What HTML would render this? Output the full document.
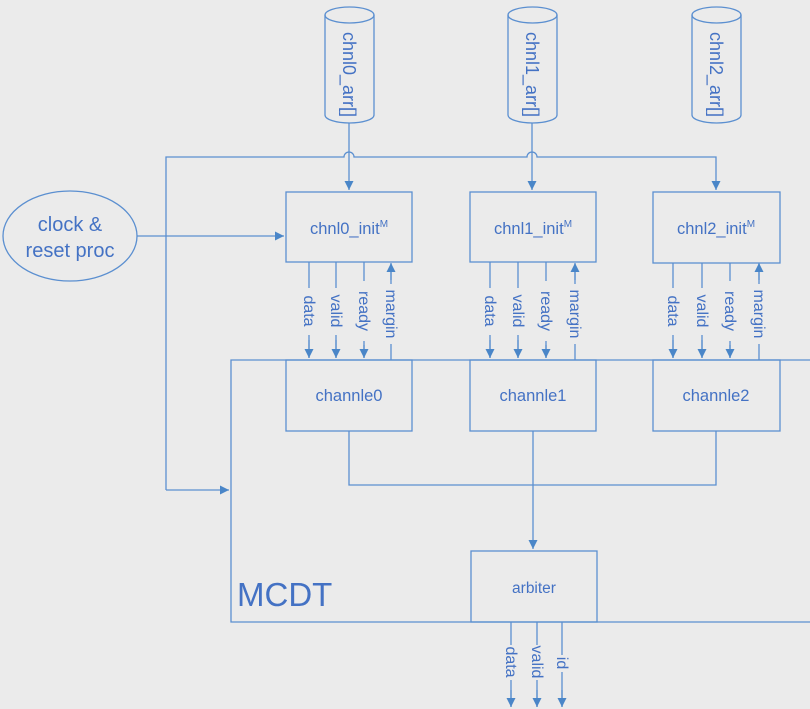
<!DOCTYPE html>
<html><head><style>
html,body{margin:0;padding:0;background:#ebebeb;}
svg{display:block;}
text{font-family:"Liberation Sans",sans-serif;fill:#4472c4;}
</style></head><body>
<svg width="810" height="709" viewBox="0 0 810 709" xmlns="http://www.w3.org/2000/svg">
<defs>
<marker id="a" viewBox="0 0 10 10" refX="10" refY="5" markerWidth="9" markerHeight="9" markerUnits="userSpaceOnUse" orient="auto"><path d="M0,0L10,5L0,10z" fill="#4a86c8"/></marker>
</defs>
<rect width="810" height="709" fill="#ebebeb"/>
<g stroke="#5b8fd0" stroke-width="1.3" fill="none">
<g>
<path d="M325,15 V115 A24.5,8 0 0 0 374,115 V15"/><ellipse cx="349.5" cy="15" rx="24.5" ry="8"/>
<path d="M508,15 V115 A24.5,8 0 0 0 557,115 V15"/><ellipse cx="532.5" cy="15" rx="24.5" ry="8"/>
<path d="M692,15 V115 A24.5,8 0 0 0 741,115 V15"/><ellipse cx="716.5" cy="15" rx="24.5" ry="8"/>
</g>
<ellipse cx="70" cy="236" rx="67" ry="45"/>
<path d="M166,490 V157 H344 A5,5 0 0 1 354,157 H527 A5,5 0 0 1 537,157 H716 V190" marker-end="url(#a)"/>
<path d="M166,490 H229" marker-end="url(#a)"/>
<path d="M349,123 V190" marker-end="url(#a)"/>
<path d="M532,123 V190" marker-end="url(#a)"/>
<path d="M137,236 H284" marker-end="url(#a)"/>
<rect x="286" y="192" width="126" height="70"/>
<rect x="470" y="192" width="126" height="70"/>
<rect x="653" y="192" width="127" height="71"/>
<path d="M810,360 H231 V622 H810"/>
<rect x="286" y="360" width="126" height="71"/>
<rect x="470" y="360" width="126" height="71"/>
<rect x="653" y="360" width="127" height="71"/>
<path d="M349,431 V485 H716 V431"/>
<path d="M533,431 V549" marker-end="url(#a)"/>
<rect x="471" y="551" width="126" height="71"/>
<g>
<path d="M309,262 V288 M309,335 V358" /><path d="M309,340 V358" marker-end="url(#a)"/>
<path d="M336,262 V288 M336,335 V358"/><path d="M336,340 V358" marker-end="url(#a)"/>
<path d="M364,262 V281 M364,341 V358"/><path d="M364,345 V358" marker-end="url(#a)"/>
<path d="M391,360 V344 M391,284 V264"/><path d="M391,280 V263" marker-end="url(#a)"/>

<path d="M490,262 V288 M490,335 V358"/><path d="M490,340 V358" marker-end="url(#a)"/>
<path d="M518,262 V288 M518,335 V358"/><path d="M518,340 V358" marker-end="url(#a)"/>
<path d="M546,262 V281 M546,341 V358"/><path d="M546,345 V358" marker-end="url(#a)"/>
<path d="M575,360 V344 M575,284 V264"/><path d="M575,280 V263" marker-end="url(#a)"/>

<path d="M673,263 V288 M673,335 V358"/><path d="M673,340 V358" marker-end="url(#a)"/>
<path d="M702,263 V288 M702,335 V358"/><path d="M702,340 V358" marker-end="url(#a)"/>
<path d="M730,263 V281 M730,341 V358"/><path d="M730,345 V358" marker-end="url(#a)"/>
<path d="M759,360 V344 M759,284 V264"/><path d="M759,280 V263" marker-end="url(#a)"/>

<path d="M511,622 V645 M511,680 V707"/><path d="M511,690 V707" marker-end="url(#a)"/>
<path d="M537,622 V645 M537,680 V707"/><path d="M537,690 V707" marker-end="url(#a)"/>
<path d="M562,622 V655 M562,672 V707"/><path d="M562,690 V707" marker-end="url(#a)"/>
</g>
</g>
<g font-size="18">
<text transform="translate(343,32) rotate(90)">chnl0_arr[]</text>
<text transform="translate(526,32) rotate(90)">chnl1_arr[]</text>
<text transform="translate(710,32) rotate(90)">chnl2_arr[]</text>
<text x="70" y="231" text-anchor="middle" font-size="20">clock &amp;</text>
<text x="70" y="257" text-anchor="middle" font-size="20">reset proc</text>
</g>
<g font-size="16.5" text-anchor="middle">
<text x="349" y="234">chnl0_init<tspan font-size="10" dy="-7">M</tspan></text>
<text x="533" y="234">chnl1_init<tspan font-size="10" dy="-7">M</tspan></text>
<text x="716" y="234">chnl2_init<tspan font-size="10" dy="-7">M</tspan></text>
<text x="349" y="401">channle0</text>
<text x="533" y="401">channle1</text>
<text x="716" y="401">channle2</text>
<text x="534" y="593" font-size="15.5">arbiter</text>
</g>
<text x="237" y="606" font-size="33">MCDT</text>
<g font-size="16">
<text transform="translate(304,311) rotate(90)" text-anchor="middle">data</text>
<text transform="translate(331,311) rotate(90)" text-anchor="middle">valid</text>
<text transform="translate(359,311) rotate(90)" text-anchor="middle">ready</text>
<text transform="translate(386,314) rotate(90)" text-anchor="middle">margin</text>
<text transform="translate(485,311) rotate(90)" text-anchor="middle">data</text>
<text transform="translate(513,311) rotate(90)" text-anchor="middle">valid</text>
<text transform="translate(541,311) rotate(90)" text-anchor="middle">ready</text>
<text transform="translate(570,314) rotate(90)" text-anchor="middle">margin</text>
<text transform="translate(668,311) rotate(90)" text-anchor="middle">data</text>
<text transform="translate(697,311) rotate(90)" text-anchor="middle">valid</text>
<text transform="translate(725,311) rotate(90)" text-anchor="middle">ready</text>
<text transform="translate(754,314) rotate(90)" text-anchor="middle">margin</text>
<text transform="translate(506,662) rotate(90)" text-anchor="middle">data</text>
<text transform="translate(532,662) rotate(90)" text-anchor="middle">valid</text>
<text transform="translate(557,663) rotate(90)" text-anchor="middle">id</text>
</g>
</svg>
</body></html>
